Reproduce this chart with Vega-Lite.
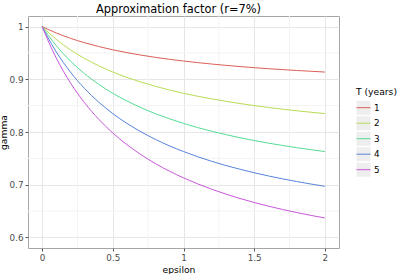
{
  "$schema": "https://vega.github.io/schema/vega-lite/v6.json",
  "width": 311,
  "height": 232,
  "autosize": "none",
  "padding": {"left": 28, "top": 16, "right": 60, "bottom": 26},
  "background": "white",
  "config": {
    "font": "DejaVu Sans",
    "view": {"stroke": "#a6a6a6", "strokeWidth": 1},
    "legend": {
      "orient": "none",
      "legendX": 328,
      "legendY": 72,
      "padding": 0,
      "titleFontSize": 9.2,
      "titleFontWeight": "normal",
      "titleColor": "black",
      "titlePadding": 3,
      "labelFontSize": 8.8,
      "labelColor": "black",
      "labelOffset": 3,
      "rowPadding": 0.5,
      "symbolSize": 196,
      "clipHeight": 15
    }
  },
  "title": {
    "text": "Approximation factor (r=7%)",
    "fontSize": 11.4,
    "fontWeight": "normal",
    "color": "black",
    "anchor": "middle",
    "frame": "group",
    "dx": -5,
    "baseline": "top",
    "offset": 0
  },
  "datasets": {
    "xminor": [{"epsilon": 0.25}, {"epsilon": 0.75}, {"epsilon": 1.25}, {"epsilon": 1.75}],
    "yminor": [{"gamma": 0.65}, {"gamma": 0.75}, {"gamma": 0.85}, {"gamma": 0.95}],
    "keys": [{"T": 1}, {"T": 2}, {"T": 3}, {"T": 4}, {"T": 5}],
    "curves": [
      {"T": 1, "epsilon": 0, "gamma": 1}, {"T": 2, "epsilon": 0, "gamma": 1}, {"T": 3, "epsilon": 0, "gamma": 1}, {"T": 4, "epsilon": 0, "gamma": 1}, {"T": 5, "epsilon": 0, "gamma": 1},
      {"T": 1, "epsilon": 0.05, "gamma": 0.9936}, {"T": 2, "epsilon": 0.05, "gamma": 0.9872}, {"T": 3, "epsilon": 0.05, "gamma": 0.9809}, {"T": 4, "epsilon": 0.05, "gamma": 0.9746}, {"T": 5, "epsilon": 0.05, "gamma": 0.9683},
      {"T": 1, "epsilon": 0.1, "gamma": 0.9878}, {"T": 2, "epsilon": 0.1, "gamma": 0.9757}, {"T": 3, "epsilon": 0.1, "gamma": 0.9638}, {"T": 4, "epsilon": 0.1, "gamma": 0.952}, {"T": 5, "epsilon": 0.1, "gamma": 0.9403},
      {"T": 1, "epsilon": 0.2, "gamma": 0.9777}, {"T": 2, "epsilon": 0.2, "gamma": 0.9559}, {"T": 3, "epsilon": 0.2, "gamma": 0.9346}, {"T": 4, "epsilon": 0.2, "gamma": 0.9137}, {"T": 5, "epsilon": 0.2, "gamma": 0.8934},
      {"T": 1, "epsilon": 0.3, "gamma": 0.9693}, {"T": 2, "epsilon": 0.3, "gamma": 0.9395}, {"T": 3, "epsilon": 0.3, "gamma": 0.9106}, {"T": 4, "epsilon": 0.3, "gamma": 0.8826}, {"T": 5, "epsilon": 0.3, "gamma": 0.8555},
      {"T": 1, "epsilon": 0.4, "gamma": 0.9621}, {"T": 2, "epsilon": 0.4, "gamma": 0.9256}, {"T": 3, "epsilon": 0.4, "gamma": 0.8905}, {"T": 4, "epsilon": 0.4, "gamma": 0.8567}, {"T": 5, "epsilon": 0.4, "gamma": 0.8243},
      {"T": 1, "epsilon": 0.5, "gamma": 0.9559}, {"T": 2, "epsilon": 0.5, "gamma": 0.9137}, {"T": 3, "epsilon": 0.5, "gamma": 0.8734}, {"T": 4, "epsilon": 0.5, "gamma": 0.8349}, {"T": 5, "epsilon": 0.5, "gamma": 0.7981},
      {"T": 1, "epsilon": 0.6, "gamma": 0.9505}, {"T": 2, "epsilon": 0.6, "gamma": 0.9035}, {"T": 3, "epsilon": 0.6, "gamma": 0.8588}, {"T": 4, "epsilon": 0.6, "gamma": 0.8163}, {"T": 5, "epsilon": 0.6, "gamma": 0.7759},
      {"T": 1, "epsilon": 0.7, "gamma": 0.9458}, {"T": 2, "epsilon": 0.7, "gamma": 0.8946}, {"T": 3, "epsilon": 0.7, "gamma": 0.8461}, {"T": 4, "epsilon": 0.7, "gamma": 0.8002}, {"T": 5, "epsilon": 0.7, "gamma": 0.7569},
      {"T": 1, "epsilon": 0.8, "gamma": 0.9416}, {"T": 2, "epsilon": 0.8, "gamma": 0.8867}, {"T": 3, "epsilon": 0.8, "gamma": 0.8349}, {"T": 4, "epsilon": 0.8, "gamma": 0.7862}, {"T": 5, "epsilon": 0.8, "gamma": 0.7403},
      {"T": 1, "epsilon": 0.9, "gamma": 0.9379}, {"T": 2, "epsilon": 0.9, "gamma": 0.8797}, {"T": 3, "epsilon": 0.9, "gamma": 0.8251}, {"T": 4, "epsilon": 0.9, "gamma": 0.7738}, {"T": 5, "epsilon": 0.9, "gamma": 0.7258},
      {"T": 1, "epsilon": 1.0, "gamma": 0.9346}, {"T": 2, "epsilon": 1.0, "gamma": 0.8734}, {"T": 3, "epsilon": 1.0, "gamma": 0.8163}, {"T": 4, "epsilon": 1.0, "gamma": 0.7629}, {"T": 5, "epsilon": 1.0, "gamma": 0.713},
      {"T": 1, "epsilon": 1.1, "gamma": 0.9316}, {"T": 2, "epsilon": 1.1, "gamma": 0.8678}, {"T": 3, "epsilon": 1.1, "gamma": 0.8084}, {"T": 4, "epsilon": 1.1, "gamma": 0.7531}, {"T": 5, "epsilon": 1.1, "gamma": 0.7016},
      {"T": 1, "epsilon": 1.2, "gamma": 0.9289}, {"T": 2, "epsilon": 1.2, "gamma": 0.8628}, {"T": 3, "epsilon": 1.2, "gamma": 0.8014}, {"T": 4, "epsilon": 1.2, "gamma": 0.7444}, {"T": 5, "epsilon": 1.2, "gamma": 0.6914},
      {"T": 1, "epsilon": 1.3, "gamma": 0.9264}, {"T": 2, "epsilon": 1.3, "gamma": 0.8582}, {"T": 3, "epsilon": 1.3, "gamma": 0.795}, {"T": 4, "epsilon": 1.3, "gamma": 0.7364}, {"T": 5, "epsilon": 1.3, "gamma": 0.6822},
      {"T": 1, "epsilon": 1.4, "gamma": 0.9241}, {"T": 2, "epsilon": 1.4, "gamma": 0.854}, {"T": 3, "epsilon": 1.4, "gamma": 0.7891}, {"T": 4, "epsilon": 1.4, "gamma": 0.7293}, {"T": 5, "epsilon": 1.4, "gamma": 0.6739},
      {"T": 1, "epsilon": 1.5, "gamma": 0.922}, {"T": 2, "epsilon": 1.5, "gamma": 0.8501}, {"T": 3, "epsilon": 1.5, "gamma": 0.7838}, {"T": 4, "epsilon": 1.5, "gamma": 0.7227}, {"T": 5, "epsilon": 1.5, "gamma": 0.6663},
      {"T": 1, "epsilon": 1.6, "gamma": 0.9201}, {"T": 2, "epsilon": 1.6, "gamma": 0.8466}, {"T": 3, "epsilon": 1.6, "gamma": 0.7789}, {"T": 4, "epsilon": 1.6, "gamma": 0.7167}, {"T": 5, "epsilon": 1.6, "gamma": 0.6594},
      {"T": 1, "epsilon": 1.7, "gamma": 0.9183}, {"T": 2, "epsilon": 1.7, "gamma": 0.8433}, {"T": 3, "epsilon": 1.7, "gamma": 0.7745}, {"T": 4, "epsilon": 1.7, "gamma": 0.7112}, {"T": 5, "epsilon": 1.7, "gamma": 0.6531},
      {"T": 1, "epsilon": 1.8, "gamma": 0.9167}, {"T": 2, "epsilon": 1.8, "gamma": 0.8403}, {"T": 3, "epsilon": 1.8, "gamma": 0.7703}, {"T": 4, "epsilon": 1.8, "gamma": 0.7061}, {"T": 5, "epsilon": 1.8, "gamma": 0.6473},
      {"T": 1, "epsilon": 1.9, "gamma": 0.9152}, {"T": 2, "epsilon": 1.9, "gamma": 0.8375}, {"T": 3, "epsilon": 1.9, "gamma": 0.7665}, {"T": 4, "epsilon": 1.9, "gamma": 0.7014}, {"T": 5, "epsilon": 1.9, "gamma": 0.6419},
      {"T": 1, "epsilon": 2.0, "gamma": 0.9137}, {"T": 2, "epsilon": 2.0, "gamma": 0.8349}, {"T": 3, "epsilon": 2.0, "gamma": 0.7629}, {"T": 4, "epsilon": 2.0, "gamma": 0.6971}, {"T": 5, "epsilon": 2.0, "gamma": 0.637}
    ]
  },
  "layer": [
    {
      "data": {"name": "xminor"},
      "mark": {"type": "rule", "color": "#f3f3f3", "strokeWidth": 1},
      "encoding": {
        "x": {"field": "epsilon", "type": "quantitative", "scale": {"domain": [-0.1, 2.1], "nice": false, "zero": false}}
      }
    },
    {
      "data": {"name": "yminor"},
      "mark": {"type": "rule", "color": "#f3f3f3", "strokeWidth": 1},
      "encoding": {
        "y": {"field": "gamma", "type": "quantitative", "scale": {"domain": [0.58, 1.02], "nice": false, "zero": false}}
      }
    },
    {
      "data": {"name": "keys"},
      "mark": {"type": "point", "opacity": 0, "filled": true, "fill": "#eeeeee", "stroke": "#cccccc", "strokeWidth": 1},
      "encoding": {
        "shape": {
          "field": "T",
          "type": "nominal",
          "scale": {"domain": [1, 2, 3, 4, 5], "range": ["square", "square", "square", "square", "square"]},
          "legend": {
            "title": "T (years)",
            "titleOpacity": 0,
            "labelOpacity": 0,
            "symbolType": "square",
            "symbolFillColor": "#eeeeee",
            "symbolStrokeColor": "#cccccc",
            "symbolStrokeWidth": 1,
            "symbolOpacity": 1,
            "encode": {
              "symbols": {
                "enter": {"stroke": {"value": "#cccccc"}, "strokeWidth": {"value": 1}},
                "update": {"stroke": {"value": "#cccccc"}, "strokeWidth": {"value": 1}}
              }
            }
          }
        }
      }
    },
    {
      "data": {"name": "curves"},
      "mark": {"type": "line", "strokeWidth": 1, "interpolate": "monotone"},
      "encoding": {
        "x": {
          "field": "epsilon",
          "type": "quantitative",
          "scale": {"domain": [-0.1, 2.1], "nice": false, "zero": false},
          "axis": {
            "title": "epsilon",
            "values": [0, 0.5, 1, 1.5, 2],
            "format": "~g",
            "grid": true,
            "gridColor": "#e6e6e6",
            "domain": false,
            "tickColor": "#555555",
            "tickSize": 3,
            "labelColor": "#4d4d4d",
            "labelFontSize": 8.8,
            "labelPadding": 2,
            "titleFontSize": 9.2,
            "titleFontWeight": "normal",
            "titleColor": "black",
            "titlePadding": 4,
            "titleX": 150.5
          }
        },
        "y": {
          "field": "gamma",
          "type": "quantitative",
          "scale": {"domain": [0.58, 1.02], "nice": false, "zero": false},
          "axis": {
            "title": "gamma",
            "values": [0.6, 0.7, 0.8, 0.9, 1],
            "format": "~g",
            "grid": true,
            "gridColor": "#e6e6e6",
            "domain": false,
            "tickColor": "#555555",
            "tickSize": 3,
            "labelColor": "#4d4d4d",
            "labelFontSize": 8.8,
            "labelPadding": 2,
            "titleFontSize": 9.2,
            "titleFontWeight": "normal",
            "titleColor": "black",
            "titleX": -19.5,
            "titleBaseline": "bottom"
          }
        },
        "color": {
          "field": "T",
          "type": "nominal",
          "scale": {"range": ["#db5f57", "#b9db57", "#57db94", "#5784db", "#c957db"]},
          "legend": {
            "title": "T (years)",
            "symbolType": "stroke",
            "symbolStrokeWidth": 1
          }
        }
      }
    }
  ]
}
